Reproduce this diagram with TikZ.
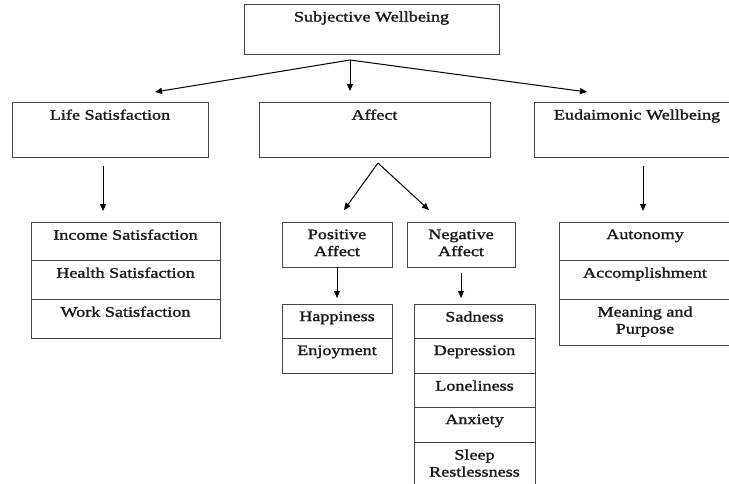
\documentclass[tikz,border=0pt]{standalone}
\usepackage{fontspec}
\setmainfont{Liberation Serif}[FakeStretch=1.25,FakeBold=1.5]
\usetikzlibrary{arrows.meta}
\definecolor{linec}{HTML}{454545}
\begin{document}
\begin{tikzpicture}[x=1pt,y=-1pt,
  cell/.style={draw=linec, line width=0.9pt, inner sep=0pt, outer sep=0pt, anchor=north west},
  lbl/.style={inner sep=0pt, anchor=north, align=center, font=\fontsize{14.5}{17}\selectfont, text=black!90},
  arr/.style={draw=black, line width=1pt, -{Triangle[length=7pt,width=6pt]}}]
\useasboundingbox (0,0) rectangle (729,483);
\fill[white] (0,0) rectangle (729,483);
\clip (0,0) rectangle (729,483);
% top
\node[cell, minimum width=255pt, minimum height=50pt] (sw) at (244,4) {};
\node[lbl] (swt) at ([yshift=-7.3pt]sw.north) {Subjective Wellbeing};
% second level
\node[cell, minimum width=196pt, minimum height=55pt] (ls) at (12,102) {};
\node[lbl] (lst) at ([yshift=-7.3pt]ls.north) {Life Satisfaction};
\node[cell, minimum width=231pt, minimum height=55pt] (af) at (259,102) {};
\node[lbl] (aft) at ([yshift=-7.3pt]af.north) {Affect};
\node[cell, minimum width=206pt, minimum height=55pt] (ew) at (534,102) {};
\node[lbl] (ewt) at ([yshift=-7.3pt]ew.north) {Eudaimonic Wellbeing};
% life satisfaction list
\node[cell, minimum width=189pt, minimum height=38pt] (inc) at (31,222) {};
\node[lbl] (inct) at ([yshift=-7.3pt]inc.north) {Income Satisfaction};
\node[cell, minimum width=189pt, minimum height=39pt] (hea) at (31,260) {};
\node[lbl] (heat) at ([yshift=-7.3pt]hea.north) {Health Satisfaction};
\node[cell, minimum width=189pt, minimum height=39pt] (wor) at (31,299) {};
\node[lbl] (wort) at ([yshift=-7.3pt]wor.north) {Work Satisfaction};
% positive / negative
\node[cell, minimum width=110pt, minimum height=45pt] (pa) at (282,222) {};
\node[lbl] (pat) at ([yshift=-7.3pt]pa.north) {Positive\\Affect};
\node[cell, minimum width=108pt, minimum height=45pt] (na) at (407,222) {};
\node[lbl] (nat) at ([yshift=-7.3pt]na.north) {Negative\\Affect};
\node[cell, minimum width=110pt, minimum height=34pt] (hap) at (282,304) {};
\node[lbl] (hapt) at ([yshift=-7.3pt]hap.north) {Happiness};
\node[cell, minimum width=110pt, minimum height=35pt] (enj) at (282,338) {};
\node[lbl] (enjt) at ([yshift=-7.3pt]enj.north) {Enjoyment};
\node[cell, minimum width=121pt, minimum height=34pt] (sad) at (414,304) {};
\node[lbl] (sadt) at ([yshift=-7.3pt]sad.north) {Sadness};
\node[cell, minimum width=121pt, minimum height=35pt] (dep) at (414,338) {};
\node[lbl] (dept) at ([yshift=-7.3pt]dep.north) {Depression};
\node[cell, minimum width=121pt, minimum height=34pt] (lon) at (414,373) {};
\node[lbl] (lont) at ([yshift=-7.3pt]lon.north) {Loneliness};
\node[cell, minimum width=121pt, minimum height=35pt] (anx) at (414,407) {};
\node[lbl] (anxt) at ([yshift=-7.3pt]anx.north) {Anxiety};
\node[cell, minimum width=121pt, minimum height=55pt] (sle) at (414,442) {};
\node[lbl] (slet) at ([yshift=-7.3pt]sle.north) {Sleep\\Restlessness};
% eudaimonic list
\node[cell, minimum width=172pt, minimum height=38pt] (aut) at (559,222) {};
\node[lbl] (autt) at ([yshift=-7.3pt]aut.north) {Autonomy};
\node[cell, minimum width=172pt, minimum height=39pt] (acc) at (559,260) {};
\node[lbl] (acct) at ([yshift=-7.3pt]acc.north) {Accomplishment};
\node[cell, minimum width=172pt, minimum height=46pt] (mea) at (559,299) {};
\node[lbl] (meat) at ([yshift=-7.3pt]mea.north) {Meaning and\\Purpose};
% connector points
\coordinate (swsplit) at (350,60);
\coordinate (lsin) at (155,92);
\coordinate (afin) at (350,91);
\coordinate (ewin) at (587,92);
\coordinate (lsout) at (103,166);
\coordinate (incin) at (103,211);
\coordinate (afsplit) at (378,163);
\coordinate (pain) at (344,210);
\coordinate (nain) at (429,210);
\coordinate (ewout) at (643,166);
\coordinate (autin) at (643,211);
\coordinate (hapin) at (337,298);
\coordinate (naout) at (461,273);
\coordinate (sadin) at (461,298);
% connectors
\draw[arr] (swsplit) -- (lsin);
\draw[arr] (swsplit) -- (afin);
\draw[arr] (swsplit) -- (ewin);
\draw[arr] (lsout) -- (incin);
\draw[arr] (afsplit) -- (pain);
\draw[arr] (afsplit) -- (nain);
\draw[arr] (ewout) -- (autin);
\draw[arr] (pa.south -| hapin) -- (hapin);
\draw[arr] (naout) -- (sadin);
\end{tikzpicture}
\end{document}
